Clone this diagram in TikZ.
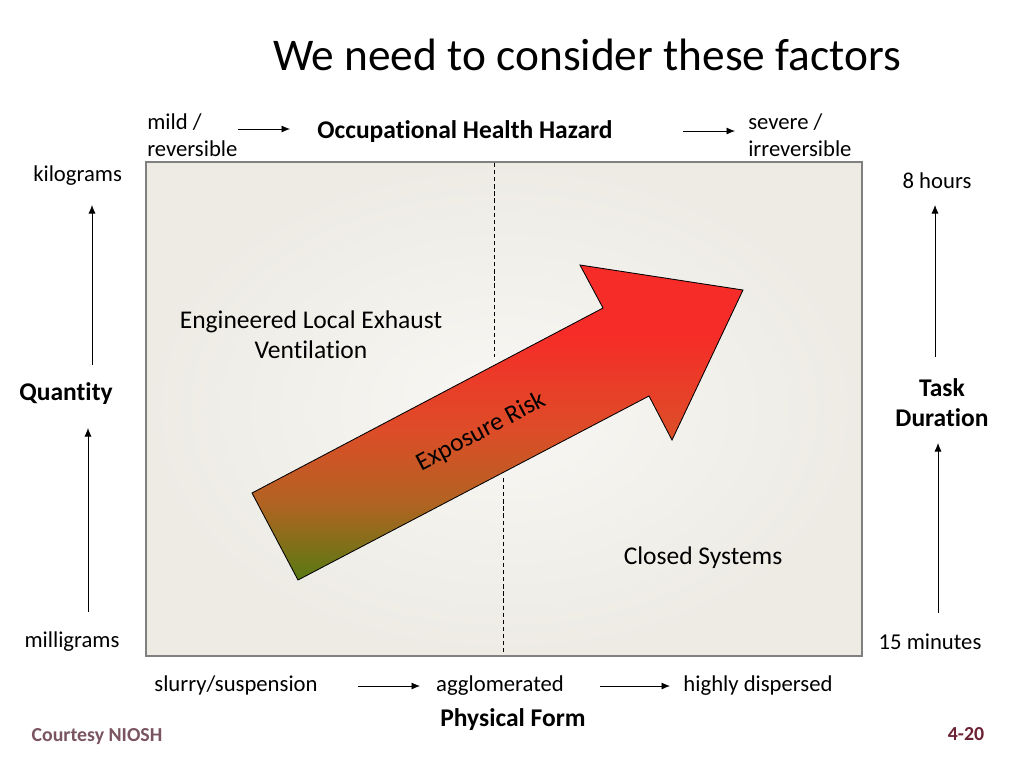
\documentclass[tikz,border=0pt]{standalone}
\usepackage{fontspec}
\setmainfont{Carlito}[Ligatures=NoCommon]
\usepackage{xcolor}
\usepackage{tikz}
\usetikzlibrary{arrows.meta}

\definecolor{boxline}{RGB}{128,128,128}
\definecolor{boxin}{RGB}{248,247,244}
\definecolor{boxout}{RGB}{237,235,228}
\definecolor{riskgreen}{RGB}{88,122,18}
\definecolor{riskbrown}{RGB}{176,100,34}
\definecolor{riskorange}{RGB}{222,76,40}
\definecolor{riskred}{RGB}{246,44,40}
\definecolor{niosh}{RGB}{122,85,96}
\definecolor{pagenum}{RGB}{108,34,50}

\pgfdeclareverticalshading{riskshade}{100bp}{color(0bp)=(riskgreen); color(25bp)=(riskgreen); color(37bp)=(riskbrown); color(49bp)=(riskorange); color(64bp)=(riskred); color(100bp)=(riskred)}

\tikzset{
  small/.style={font=\fontsize{16}{19}\selectfont, align=left, inner sep=0pt},
  label/.style={font=\fontsize{18}{21}\selectfont, align=center, inner sep=0pt},
  axisname/.style={font=\fontsize{18}{21}\selectfont\bfseries, align=center, inner sep=0pt},
  pointer/.style={-{Latex[length=6pt,width=5pt]}, line width=0.6pt},
}

\begin{document}
\begin{tikzpicture}[x=0.248mm, y=-0.248mm]
        \useasboundingbox (0,0) rectangle (1024,768);

        % Title
        \node[font=\fontsize{32}{38}\selectfont, inner sep=0pt] (title) at (587,55) {We need to consider these factors};

        % Hazard scale
        \node[small, anchor=west] (mild) at (147,135) {mild /\\reversible};
        \node[axisname] (hazard) at (465,132) {Occupational Health Hazard};
        \node[small, anchor=west] (severe) at (748,135) {severe /\\irreversible};
        \coordinate (haz0) at (238,129);
        \coordinate (haz1) at (290,129);
        \coordinate (haz2) at (683,131);
        \coordinate (haz3) at (735,131);
        \draw[pointer] (haz0) -- (haz1);
        \draw[pointer] (haz2) -- (haz3);

        % Main box
        \shade[inner color=boxin, outer color=boxout, draw=boxline, line width=1pt] (146,162) rectangle (862,656);
        \draw[dashed, dash pattern=on 3pt off 2pt, line width=0.5pt] (494,163) -- (494,357);
        \draw[dashed, dash pattern=on 3pt off 2pt, line width=0.5pt] (503,478) -- (503,655);

        \node[label] (lev) at (311,335) {Engineered Local Exhaust\\Ventilation};
        \node[label] (closed) at (703,558) {Closed Systems};

        % Exposure risk arrow
        \shade[shading=riskshade, draw=black, line width=0.6pt]
            (298,580) -- (252,493) -- (603,308) -- (580,265) -- (743,290)
            -- (672,440) -- (649,396) -- cycle;
        \node[label, rotate=27.8] (risk) at (481,432) {Exposure Risk};

        % Quantity
        \node[small, anchor=west] (kilograms) at (33,176) {kilograms};
        \node[axisname] (quantity) at (66,394) {Quantity};
        \node[small] (milligrams) at (72,642) {milligrams};
        \coordinate (qty0) at (92,365);
        \coordinate (qty1) at (92,205);
        \coordinate (qty2) at (88,612);
        \coordinate (qty3) at (88,428);
        \draw[pointer] (qty0) -- (qty1);
        \draw[pointer] (qty2) -- (qty3);

        % Task duration
        \node[small] (hours) at (937,181) {8 hours};
        \node[axisname] (duration) at (942,403) {Task\\Duration};
        \node[small] (minutes) at (930,642) {15 minutes};
        \coordinate (dur0) at (935,357);
        \coordinate (dur1) at (935,205);
        \coordinate (dur2) at (938,613);
        \coordinate (dur3) at (938,443);
        \draw[pointer] (dur0) -- (dur1);
        \draw[pointer] (dur2) -- (dur3);

        % Physical form
        \node[small, anchor=base] (slurry) at (236,691) {slurry/suspension};
        \node[small, anchor=base] (agglom) at (500,691) {agglomerated};
        \node[small, anchor=base] (dispersed) at (758,691) {highly dispersed};
        \node[axisname] (form) at (513,720) {Physical Form};
        \coordinate (frm0) at (358,686);
        \coordinate (frm1) at (420,686);
        \coordinate (frm2) at (600,686);
        \coordinate (frm3) at (670,686);
        \draw[pointer] (frm0) -- (frm1);
        \draw[pointer] (frm2) -- (frm3);

        % Footer
        \node[font=\fontsize{14}{16}\selectfont\bfseries, text=niosh, inner sep=0pt] (courtesy) at (97,737) {Courtesy NIOSH};
        \node[font=\fontsize{14}{16}\selectfont\bfseries, text=pagenum, inner sep=0pt] (page) at (966,734) {4-20};
    \end{tikzpicture}
\end{document}
